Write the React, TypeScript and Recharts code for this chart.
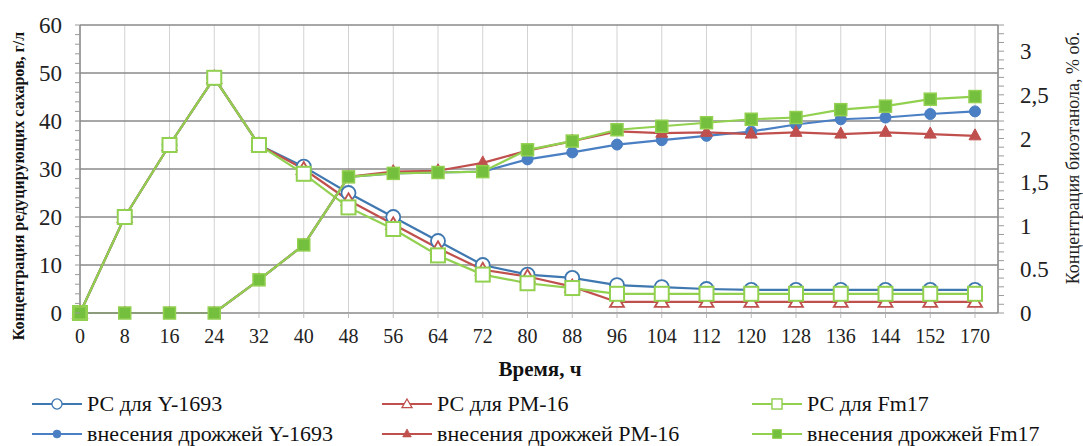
import React from 'react'
import {
  LineChart,
  Line,
  XAxis,
  YAxis,
  CartesianGrid,
  ReferenceLine,
} from 'recharts'

// время, ч
const hours = ['0', '8', '16', '24', '32', '40', '48', '56', '64', '72', '80', '88', '96', '104', '112', '120', '128', '136', '144', '152', '170']

// редуцирующие сахара, г/л (левая ось)
const rsY1693 = [0, 20, 35, 49, 35, 30.5, 25, 20, 15, 10, 8, 7.3, 5.8, 5.4, 5, 4.8, 4.8, 4.8, 4.8, 4.8, 4.8]
const rsPM16 = [0, 20, 35, 49, 35, 30, 23.5, 18.5, 13.5, 9, 7.6, 5.5, 2.3, 2.3, 2.3, 2.3, 2.3, 2.3, 2.3, 2.3, 2.3]
const rsFm17 = [0, 20, 35, 49, 35, 29, 22, 17.5, 12, 8, 6.2, 5.2, 4, 4, 4, 4, 4, 4, 4, 4, 4]

// биоэтанол, % об. (правая ось)
const etY1693 = [0, 0, 0, 0, 0.38, 0.78, 1.56, 1.6, 1.61, 1.62, 1.76, 1.84, 1.93, 1.98, 2.03, 2.08, 2.16, 2.22, 2.24, 2.28, 2.31]
const etPM16 = [0, 0, 0, 0, 0.38, 0.78, 1.56, 1.62, 1.63, 1.72, 1.86, 1.97, 2.08, 2.06, 2.07, 2.05, 2.07, 2.05, 2.07, 2.05, 2.03]
const etFm17 = [0, 0, 0, 0, 0.38, 0.78, 1.56, 1.6, 1.61, 1.62, 1.87, 1.97, 2.1, 2.14, 2.18, 2.22, 2.24, 2.33, 2.37, 2.45, 2.48]

const leftMajor = [0, 10, 20, 30, 40, 50, 60]
const leftMinor = Array.from({ length: 31 }, (_, i) => i * 2)
const rightMajor = ['0', '0.5', '1', '1,5', '2', '2,5', '3']
const rightMinor = Array.from({ length: 34 }, (_, i) => i / 10)

const data = hours.map((t, i) => ({
  t,
  rsY: rsY1693[i],
  rsP: rsPM16[i],
  rsF: rsFm17[i],
  etY: etY1693[i],
  etP: etPM16[i],
  etF: etFm17[i],
}))

const BLUE = '#3f78b0'
const BLUE_F = '#4a7fc4'
const RED = '#c0504d'
const GREEN = '#92d050'
const GREEN_F = '#74bf3e'
const FONT = 'Liberation Serif'

type Kind = 'oc' | 'ot' | 'os' | 'fc' | 'ft' | 'fs'

function Marker({ kind, cx, cy, color }: { kind: Kind; cx: number; cy: number; color: string }) {
  switch (kind) {
    case 'oc':
      return <circle cx={cx} cy={cy} r={7} fill="#fff" stroke={color} strokeWidth={1.8} />
    case 'ot':
      return <polygon points={`${cx},${cy - 7} ${cx + 7},${cy + 5} ${cx - 7},${cy + 5}`} fill="#fff" stroke={color} strokeWidth={1.8} />
    case 'os':
      return <rect x={cx - 7} y={cy - 7} width={14} height={14} fill="#fff" stroke={color} strokeWidth={2} />
    case 'fc':
      return <circle cx={cx} cy={cy} r={5.5} fill={color} stroke={color} />
    case 'ft':
      return <polygon points={`${cx},${cy - 7} ${cx + 6},${cy + 4} ${cx - 6},${cy + 4}`} fill={color} stroke={color} />
    default:
      return <rect x={cx - 6} y={cy - 6} width={12} height={12} fill={color} stroke={GREEN} strokeWidth={1.5} />
  }
}

function dotFor(kind: Kind, color: string) {
  return (p: any) => (
    <g key={`${kind}-${p.index}`}>
      <Marker kind={kind} cx={p.cx} cy={p.cy} color={color} />
    </g>
  )
}

function LeftTick({ x, y, payload }: any) {
  const v = payload.value
  return (
    <g>
      <line x1={x} x2={x - 5} y1={y} y2={y} stroke="#9a9a9a" />
      {leftMajor.includes(v) && (
        <text x={x - 18} y={y} dy="0.35em" textAnchor="end" fontSize={23} fontFamily={FONT} fill="#222">
          {v}
        </text>
      )}
    </g>
  )
}

function RightTick({ x, y, payload }: any) {
  const v = payload.value
  const half = Math.round(v * 2)
  const isMajor = Math.abs(v * 2 - half) < 1e-6 && half <= 6
  return (
    <g>
      <line x1={x} x2={x + 6} y1={y} y2={y} stroke="#9a9a9a" />
      {isMajor && (
        <text x={x + 22} y={y} dy="0.35em" textAnchor="start" fontSize={23} fontFamily={FONT} fill="#222">
          {rightMajor[half]}
        </text>
      )}
    </g>
  )
}

function BottomTick({ x, y, payload }: any) {
  return (
    <text x={x} y={y} dy="0.75em" textAnchor="middle" fontSize={20} fontFamily={FONT} fill="#222">
      {payload.value}
    </text>
  )
}

const legendItems: { label: string; kind: Kind; color: string; line: string; left: number; top: number }[] = [
  { label: 'РС для Y-1693', kind: 'oc', color: BLUE, line: BLUE, left: 87, top: 404 },
  { label: 'РС для PM-16', kind: 'ot', color: RED, line: RED, left: 437, top: 404 },
  { label: 'РС для Fm17', kind: 'os', color: GREEN, line: GREEN, left: 807, top: 404 },
  { label: 'внесения дрожжей Y-1693', kind: 'fc', color: BLUE_F, line: BLUE_F, left: 87, top: 434 },
  { label: 'внесения дрожжей PM-16', kind: 'ft', color: RED, line: RED, left: 437, top: 434 },
  { label: 'внесения дрожжей Fm17', kind: 'fs', color: GREEN_F, line: GREEN, left: 807, top: 434 },
]

function LegendIcon({ kind, color, line }: { kind: Kind; color: string; line: string }) {
  return (
    <svg width={50} height={18} style={{ display: 'block' }}>
      <line x1={0} x2={50} y1={9} y2={9} stroke={line} strokeWidth={2.2} />
      <g transform="translate(25 9) scale(0.72) translate(-25 -9)">
        <Marker kind={kind} cx={25} cy={9} color={color} />
      </g>
    </svg>
  )
}

export default function App() {
  return (
    <div style={{ position: 'absolute', left: 0, top: 0, width: 1083, height: 446, background: '#fff', overflow: 'hidden' }}>
      <LineChart width={1083} height={395} data={data} margin={{ top: 25, right: 0, bottom: 0, left: 0 }}>
        <CartesianGrid horizontal={false} stroke="#d2d2d2" strokeWidth={1} />
        <XAxis
          dataKey="t"
          interval={0}
          padding={{ left: 0, right: 23 }}
          height={82}
          axisLine={{ stroke: '#8a8a8a', strokeWidth: 1.5 }}
          tickLine={{ stroke: '#bbbbbb' }}
          tickSize={5}
          tickMargin={10}
          tick={<BottomTick />}
          label={{
            content: () => (
              <text x={540} y={369} textAnchor="middle" dominantBaseline="central" fontSize={21} fontWeight="bold" fontFamily={FONT} fill="#111">
                Время, ч
              </text>
            ),
          }}
        />
        <YAxis
          yAxisId="left"
          width={80}
          domain={[0, 60]}
          ticks={leftMinor}
          interval={0}
          tick={<LeftTick />}
          tickLine={false}
          tickSize={0}
          tickMargin={0}
          axisLine={{ stroke: '#8a8a8a', strokeWidth: 1.5 }}
          label={{
            content: () => (
              <text x={18} y={186} transform="rotate(-90 18 186)" textAnchor="middle" dominantBaseline="central" fontSize={16} fontWeight="bold" fontFamily={FONT} fill="#111">
                Концентрация редуцирующих сахаров, г/л
              </text>
            ),
          }}
        />
        <YAxis
          yAxisId="right"
          orientation="right"
          width={85}
          domain={[0, 3.3]}
          ticks={rightMinor}
          interval={0}
          tick={<RightTick />}
          tickLine={false}
          tickSize={0}
          tickMargin={0}
          axisLine={{ stroke: '#8a8a8a', strokeWidth: 1.5 }}
          label={{
            content: () => (
              <text x={1073} y={158} transform="rotate(-90 1073 158)" textAnchor="middle" dominantBaseline="central" fontSize={18} fontFamily={FONT} fill="#222">
                Концентрация биоэтанола, % об.
              </text>
            ),
          }}
        />
        {leftMajor.slice(1).map((v) => (
          <ReferenceLine key={v} yAxisId="left" y={v} stroke="#8a8a8a" strokeWidth={1.5} />
        ))}
        <Line yAxisId="left" dataKey="rsY" stroke={BLUE} strokeWidth={2.2} dot={dotFor('oc', BLUE)} activeDot={false} isAnimationActive={false} />
        <Line yAxisId="left" dataKey="rsP" stroke={RED} strokeWidth={2.2} dot={dotFor('ot', RED)} activeDot={false} isAnimationActive={false} />
        <Line yAxisId="left" dataKey="rsF" stroke={GREEN} strokeWidth={2.2} dot={dotFor('os', GREEN)} activeDot={false} isAnimationActive={false} />
        <Line yAxisId="right" dataKey="etY" stroke={BLUE_F} strokeWidth={2.2} dot={dotFor('fc', BLUE_F)} activeDot={false} isAnimationActive={false} />
        <Line yAxisId="right" dataKey="etP" stroke={RED} strokeWidth={2.2} dot={dotFor('ft', RED)} activeDot={false} isAnimationActive={false} />
        <Line yAxisId="right" dataKey="etF" stroke={GREEN} strokeWidth={2.2} dot={dotFor('fs', GREEN_F)} activeDot={false} isAnimationActive={false} />
      </LineChart>

      {/* легенда */}
      {legendItems.map((it) => (
        <div
          key={it.label}
          style={{ position: 'absolute', left: it.left - 55, top: it.top - 13, height: 26, display: 'flex', alignItems: 'center', gap: 5, fontSize: 22, fontFamily: FONT, color: '#111', whiteSpace: 'nowrap' }}
        >
          <LegendIcon kind={it.kind} color={it.color} line={it.line} />
          <span>{it.label}</span>
        </div>
      ))}
    </div>
  )
}
